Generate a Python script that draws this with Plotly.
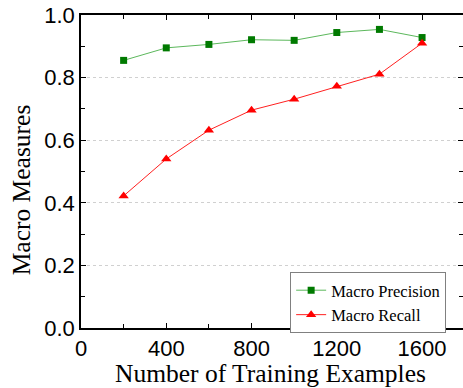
import plotly.graph_objects as go

x_examples = [200, 400, 600, 800, 1000, 1200, 1400, 1600]
macro_precision = [0.855, 0.895, 0.906, 0.921, 0.919, 0.944, 0.954, 0.928]
macro_recall = [0.422, 0.540, 0.632, 0.696, 0.731, 0.772, 0.811, 0.910]
x_ticks = [0, 400, 800, 1200, 1600]
y_ticks = [0.0, 0.2, 0.4, 0.6, 0.8, 1.0]

fig = go.Figure()
fig.add_trace(go.Scatter(
    x=x_examples, y=macro_precision, mode="lines+markers", name="Macro Precision",
    line=dict(color="#5cb85c", width=1),
    marker=dict(symbol="square", size=7, color="#007a00"),
))
fig.add_trace(go.Scatter(
    x=x_examples, y=macro_recall, mode="lines+markers", name="Macro Recall",
    line=dict(color="#ff2020", width=1),
    marker=dict(symbol="triangle-up", size=9, color="#ff0000"),
))

axis_common = dict(
    showline=True, linecolor="black", linewidth=1.5, mirror="allticks",
    ticks="inside", ticklen=5, tickcolor="black", tickwidth=1.2,
    tickfont=dict(family="Liberation Sans, Arial", size=22, color="black"),
    zeroline=False, automargin=False,
)

fig.update_xaxes(
    range=[0, 1792], tickvals=x_ticks, ticktext=[str(v) for v in x_ticks],
    showgrid=False,
    minor=dict(ticks="inside", ticklen=4, tickvals=[200, 600, 1000, 1400], tickcolor="black"),
    **axis_common,
)
fig.update_yaxes(
    range=[0, 1.0], tickvals=y_ticks, ticktext=[f"{v:.1f}" for v in y_ticks],
    showgrid=True, gridcolor="#d0d0d0", griddash="dot", gridwidth=1,
    minor=dict(ticks="inside", ticklen=4, tickvals=[0.1, 0.3, 0.5, 0.7, 0.9], tickcolor="black", showgrid=False),
    **axis_common,
)

title_font = dict(family="Liberation Serif, Times New Roman", size=25.5, color="black")
fig.add_annotation(text="Number of Training Examples", xref="paper", yref="paper",
                   x=0.495, y=-0.146, xanchor="center", yanchor="middle",
                   showarrow=False, font=title_font)
fig.add_annotation(text="Macro Measures", xref="paper", yref="paper",
                   x=-0.1535, y=0.441, xanchor="center", yanchor="middle",
                   textangle=-90, showarrow=False, font=title_font)

fig.update_layout(
    width=463, height=388,
    margin=dict(l=80.7, r=0, t=14.5, b=59.7, autoexpand=False),
    paper_bgcolor="white", plot_bgcolor="white",
    showlegend=True,
    legend=dict(
        x=0.5475, y=0.179, xanchor="left", yanchor="top",
        bgcolor="white", bordercolor="#808080", borderwidth=1,
        font=dict(family="Liberation Serif, Times New Roman", size=16.5, color="black"),
        itemwidth=30, tracegroupgap=0,
    ),
)

fig.write_html("out.html", config={"displayModeBar": False},
               post_script="document.body.style.margin='0';")
